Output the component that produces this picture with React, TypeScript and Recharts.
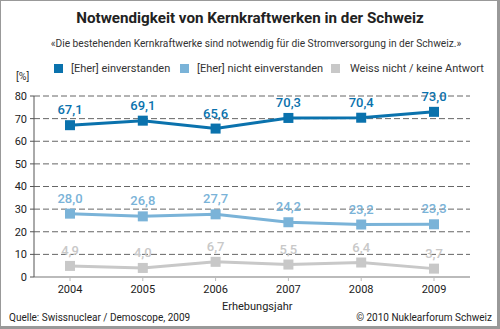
import { CartesianGrid, LabelList, Line, LineChart, XAxis, YAxis } from "recharts";

const years = ["2004", "2005", "2006", "2007", "2008", "2009"];
const agree = [67.1, 69.1, 65.6, 70.3, 70.4, 73.0];
const disagree = [28.0, 26.8, 27.7, 24.2, 23.2, 23.3];
const dontKnow = [4.9, 4.0, 6.7, 5.5, 6.4, 3.7];
const yTicks = [0, 10, 20, 30, 40, 50, 60, 70, 80];

const data = years.map((y, i) => ({
    year: y,
    agree: agree[i],
    disagree: disagree[i],
    dontKnow: dontKnow[i],
}));

const C1 = "#0a72ad";
const C2 = "#7ab3d8";
const C3 = "#c8c8c8";
const FONT = "Roboto, 'DejaVu Sans', sans-serif";

const fmt = (v: any) => Number(v).toFixed(1).replace(".", ",");

const SquareDot = (color: string) => (props: any) => {
    const { cx, cy, index } = props;
    if (cx == null || cy == null) return null;
    return <rect key={index} x={cx - 5} y={cy - 5} width={10} height={10} fill={color} />;
};

const legend = [
    { label: "[Eher] einverstanden", color: C1, x: 54, tx: 71 },
    { label: "[Eher] nicht einverstanden", color: C2, x: 180, tx: 197 },
    { label: "Weiss nicht / keine Antwort", color: C3, x: 331, tx: 350 },
];

const App = () => {
    return (
        <div
            style={{
                position: "absolute",
                left: 0,
                top: 0,
                width: 500,
                height: 329,
                boxSizing: "border-box",
                borderTop: "1px solid #999",
                borderLeft: "1px solid #999",
                borderRight: "3px solid #999",
                borderBottom: "3px solid #999",
                background: "#fff",
                fontFamily: FONT,
                color: "#222",
                overflow: "hidden",
            }}
        >
            <div style={{ position: "absolute", left: -1, top: 8, width: 500, textAlign: "center", fontWeight: "bold", fontSize: 15.2 }}>
                Notwendigkeit von Kernkraftwerken in der Schweiz
            </div>
            <div style={{ position: "absolute", left: -1, top: 37, width: 512, textAlign: "center", fontSize: 10.2, color: "#333" }}>
                «Die bestehenden Kernkraftwerke sind notwendig für die Stromversorgung in der Schweiz.»
            </div>
            {legend.map((l) => (
                <div key={l.label}>
                    <div style={{ position: "absolute", left: l.x - 1, top: 63, width: 9, height: 9, background: l.color }} />
                    <div style={{ position: "absolute", left: l.tx - 1, top: 61, fontSize: 11, color: "#333" }}>{l.label}</div>
                </div>
            ))}
            <div style={{ position: "absolute", left: 15, top: 69, fontSize: 10.5, color: "#333" }}>[%]</div>
            <div style={{ position: "absolute", left: 221, top: 299, fontSize: 11, color: "#222" }}>Erhebungsjahr</div>
            <div style={{ position: "absolute", left: 8, top: 311, fontSize: 10, color: "#222" }}>Quelle: Swissnuclear / Demoscope, 2009</div>
            <div style={{ position: "absolute", right: 5, top: 311, fontSize: 10, color: "#222" }}>© 2010 Nuklearforum Schweiz</div>
            <div style={{ position: "absolute", left: -1, top: -1 }}>
                <LineChart width={500} height={329} data={data} margin={{ top: 96, right: 30, left: 9, bottom: 32 }}>
                    <CartesianGrid
                        vertical={false}
                        horizontalValues={[10, 20, 30, 40, 50, 60, 70, 80]}
                        stroke="#666"
                        strokeDasharray="6 3"
                    />
                    <XAxis
                        dataKey="year"
                        height={20}
                        padding={{ left: 36, right: 36 }}
                        axisLine={{ stroke: "#bbb", strokeWidth: 2 }}
                        tickLine={{ stroke: "#bbb" }}
                        tickSize={4}
                        tickMargin={4}
                        tick={{ fill: "#222", fontSize: 11, fontFamily: FONT }}
                    />
                    <YAxis
                        width={25}
                        domain={[0, 80]}
                        ticks={yTicks}
                        interval={0}
                        axisLine={{ stroke: "#555" }}
                        tickLine={{ stroke: "#555" }}
                        tickSize={4}
                        tickMargin={3}
                        tick={{ fill: "#222", fontSize: 11, fontFamily: FONT }}
                    />
                    <Line dataKey="dontKnow" stroke={C3} strokeWidth={3} dot={SquareDot(C3)} activeDot={false} isAnimationActive={false}>
                        <LabelList dataKey="dontKnow" position="top" offset={11} formatter={fmt} fill={C3} fontSize={13} fontWeight={500} fontFamily={FONT} />
                    </Line>
                    <Line dataKey="disagree" stroke={C2} strokeWidth={3} dot={SquareDot(C2)} activeDot={false} isAnimationActive={false}>
                        <LabelList dataKey="disagree" position="top" offset={11} formatter={fmt} fill={C2} fontSize={13} fontWeight={500} fontFamily={FONT} />
                    </Line>
                    <Line dataKey="agree" stroke={C1} strokeWidth={3} dot={SquareDot(C1)} activeDot={false} isAnimationActive={false}>
                        <LabelList dataKey="agree" position="top" offset={11} formatter={fmt} fill={C1} fontSize={13} fontWeight={500} fontFamily={FONT} />
                    </Line>
                </LineChart>
            </div>
        </div>
    );
};

export default App;
